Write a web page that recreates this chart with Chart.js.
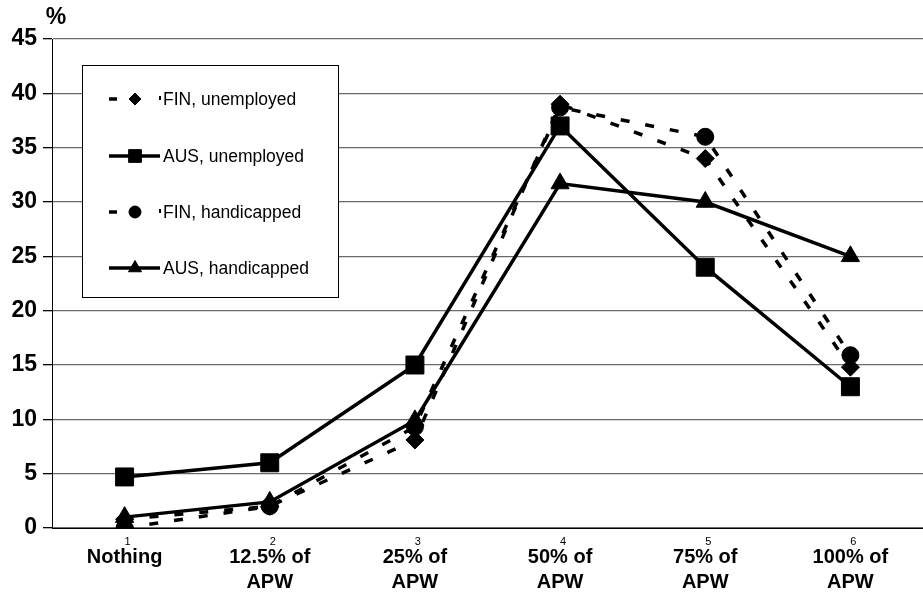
<!DOCTYPE html>
<html>
<head>
<meta charset="utf-8">
<title>Replacement rate by level of benefit</title>
<script src="https://cdn.jsdelivr.net/npm/chart.js@4/dist/chart.umd.min.js"></script>
<style>
  html, body { margin: 0; padding: 0; background: #fff; }
  #wrap { width: 923px; height: 594px; position: relative; }
</style>
</head>
<body>
<div id="wrap"><canvas id="c" width="923" height="594"></canvas></div>
<script>
// Benefit levels (x categories) and their footnote markers
const categories = [
  ['Nothing'],
  ['12.5% of', 'APW'],
  ['25% of', 'APW'],
  ['50% of', 'APW'],
  ['75% of', 'APW'],
  ['100% of', 'APW']
];
const footnotes = ['1', '2', '3', '4', '5', '6'];

// Share of respondents (%)
const finUnemployed  = [0.8, 2.0, 8.1, 39.0, 34.0, 14.8];
const ausUnemployed  = [4.7, 6.0, 15.0, 37.0, 24.0, 13.0];
const finHandicapped = [0.0, 2.0, 9.3, 38.7, 36.0, 15.9];
const ausHandicapped = [1.0, 2.4, 9.9, 31.7, 30.0, 25.0];

const seriesNames = ['FIN, unemployed', 'AUS, unemployed', 'FIN, handicapped', 'AUS, handicapped'];
const yTicks = [0, 5, 10, 15, 20, 25, 30, 35, 40, 45];

const FONT = "'Liberation Sans', Arial, Helvetica, sans-serif";
const DASH = [9, 16];

function series(label, data, dashed, style, radius) {
  return {
    label, data,
    borderColor: '#000',
    backgroundColor: '#000',
    borderWidth: 3.5,
    borderDash: dashed ? DASH : [],
    pointStyle: style,
    pointRadius: radius,
    pointHoverRadius: radius,
    pointBackgroundColor: '#000',
    pointBorderColor: '#000',
    pointBorderWidth: 1,
    tension: 0,
    fill: false
  };
}

const datasets = [
  series(seriesNames[3], ausHandicapped, false, 'triangle', 10.5),
  series(seriesNames[1], ausUnemployed, false, 'rect', 12.7),
  series(seriesNames[2], finHandicapped, true, 'circle', 8.5),
  series(seriesNames[0], finUnemployed, true, 'rectRot', 9)
];

// Draws the boxed key with line samples, plus the "%" unit and footnote marks
const decorations = {
  id: 'decorations',
  afterDraw(chart) {
    const ctx = chart.ctx;
    ctx.save();

    // unit label above the value axis
    ctx.fillStyle = '#000';
    ctx.font = 'bold 23px ' + FONT;
    ctx.textAlign = 'center';
    ctx.textBaseline = 'middle';
    ctx.fillText('%', 56, 18);

    // footnote numbers above the category labels
    const xs = chart.scales.x;
    ctx.font = '11px ' + FONT;
    footnotes.forEach((f, i) => {
      ctx.fillText(f, xs.getPixelForValue(i) + 3, 542);
    });

    // key box
    const bx = 82, by = 65, bw = 256, bh = 232;
    ctx.fillStyle = '#fff';
    ctx.fillRect(bx, by, bw, bh);
    ctx.strokeStyle = '#000';
    ctx.lineWidth = 1;
    ctx.strokeRect(bx + 0.5, by + 0.5, bw, bh);

    const entries = [
      { name: seriesNames[0], dashed: true,  style: 'rectRot',  r: 6 },
      { name: seriesNames[1], dashed: false, style: 'rect',     r: 9 },
      { name: seriesNames[2], dashed: true,  style: 'circle',   r: 6 },
      { name: seriesNames[3], dashed: false, style: 'triangle', r: 7.5 }
    ];
    const rows = [99, 156, 212, 268];
    entries.forEach((e, i) => {
      const y = rows[i];
      ctx.strokeStyle = '#000';
      ctx.lineWidth = 3.5;
      ctx.setLineDash([]);
      ctx.beginPath();
      if (e.dashed) {
        ctx.moveTo(109, y); ctx.lineTo(117, y);
        ctx.stroke();
        ctx.lineWidth = 2;
        ctx.beginPath();
        ctx.moveTo(160, y - 3); ctx.lineTo(160, y + 1);
      } else {
        ctx.moveTo(109, y); ctx.lineTo(160, y);
      }
      ctx.stroke();
      ctx.fillStyle = '#000';
      ctx.lineWidth = 1;
      Chart.helpers.drawPoint(ctx, { pointStyle: e.style, radius: e.r, rotation: 0, borderWidth: 1 }, 135, y);
      ctx.fillStyle = '#000';
      ctx.font = '17.5px ' + FONT;
      ctx.textAlign = 'left';
      ctx.textBaseline = 'middle';
      ctx.fillText(e.name, 163, y + 1);
    });

    ctx.restore();
  }
};

new Chart(document.getElementById('c'), {
  type: 'line',
  data: { labels: categories, datasets },
  options: {
    responsive: false,
    animation: false,
    events: [],
    layout: { autoPadding: false, padding: { top: 39, right: 0, left: 0, bottom: 0 } },
    plugins: {
      legend: { display: false },
      tooltip: { enabled: false },
      title: { display: false }
    },
    scales: {
      x: {
        type: 'category',
        offset: true,
        grid: { display: false, drawTicks: false },
        border: { display: true, color: '#000', width: 1 },
        ticks: {
          color: '#000',
          padding: 17,
          autoSkip: false,
          maxRotation: 0,
          font: { family: FONT, size: 20, weight: 'bold', lineHeight: 1.25 }
        },
        afterFit(scale) {
          scale.height = 66;
          scale.paddingLeft = 0;
          scale.paddingRight = 0;
        }
      },
      y: {
        min: 0,
        max: 45,
        afterBuildTicks(scale) { scale.ticks = yTicks.map(v => ({ value: v })); },
        grid: { color: '#6a6a6a', lineWidth: 1.3, tickLength: 9, tickColor: '#000' },
        border: { display: true, color: '#000', width: 1 },
        ticks: {
          color: '#000',
          padding: 6,
          font: { family: FONT, size: 23, weight: 'bold' }
        },
        afterFit(scale) { scale.width = 52; }
      }
    }
  },
  plugins: [decorations]
});
</script>
</body>
</html>
